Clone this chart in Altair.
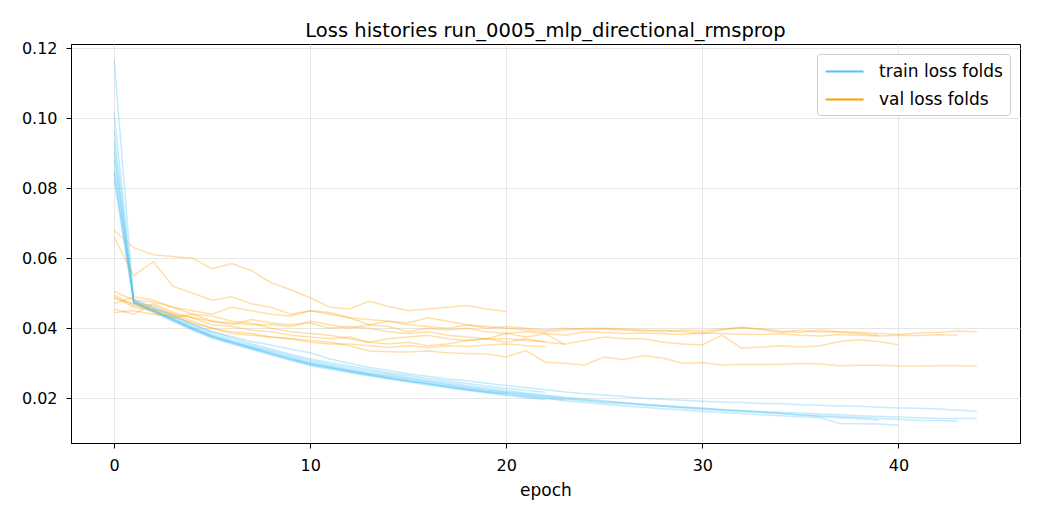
import altair as alt
import pandas as pd

# ---- train loss per fold (index = epoch) ----
train_f1 = [0.0882, 0.0480, 0.0458, 0.0435, 0.0410, 0.0390, 0.0376, 0.0362, 0.0352, 0.0340, 0.0330,
            0.0312, 0.0300, 0.0288, 0.0279, 0.0270, 0.0263, 0.0255, 0.0250, 0.0243, 0.0236, 0.0230,
            0.0224, 0.0218, 0.0213, 0.0209, 0.0205, 0.0200, 0.0197, 0.0194, 0.0191, 0.0189, 0.0188,
            0.0185, 0.0184, 0.0181, 0.0180, 0.0178, 0.0177, 0.0174, 0.0172, 0.0171, 0.0169, 0.0166, 0.0162]
train_f2 = [0.0844, 0.0475, 0.0450, 0.0425, 0.0400, 0.0378, 0.0362, 0.0348, 0.0333, 0.0318, 0.0303,
            0.0293, 0.0282, 0.0272, 0.0265, 0.0256, 0.0248, 0.0240, 0.0232, 0.0225, 0.0218, 0.0212,
            0.0206, 0.0200, 0.0195, 0.0190, 0.0186, 0.0182, 0.0178, 0.0174, 0.0171, 0.0168, 0.0165,
            0.0162, 0.0160, 0.0158, 0.0155, 0.0153, 0.0150, 0.0148, 0.0146, 0.0144, 0.0142, 0.0142, 0.0142]
train_f3 = [0.1165, 0.0478, 0.0452, 0.0428, 0.0402, 0.0380, 0.0363, 0.0346, 0.0330, 0.0315, 0.0300,
            0.0290, 0.0280, 0.0270, 0.0262, 0.0254, 0.0246, 0.0238, 0.0230, 0.0223, 0.0216, 0.0210,
            0.0204, 0.0198, 0.0193, 0.0188, 0.0184, 0.0180, 0.0176, 0.0172, 0.0168, 0.0165, 0.0162,
            0.0159, 0.0156, 0.0153, 0.0150, 0.0148, 0.0145, 0.0142, 0.0140, 0.0137, 0.0136, 0.0135]
train_f4 = [0.0930, 0.0472, 0.0448, 0.0422, 0.0396, 0.0374, 0.0358, 0.0342, 0.0326, 0.0310, 0.0296,
            0.0286, 0.0276, 0.0266, 0.0257, 0.0249, 0.0241, 0.0233, 0.0225, 0.0218, 0.0211, 0.0205,
            0.0199, 0.0193, 0.0188, 0.0183, 0.0178, 0.0174, 0.0170, 0.0166, 0.0162, 0.0159, 0.0156,
            0.0153, 0.0150, 0.0147, 0.0144, 0.0128, 0.0127, 0.0126, 0.0123]
train_f5 = [0.1016, 0.0476, 0.0454, 0.0430, 0.0406, 0.0384, 0.0368, 0.0352, 0.0337, 0.0322, 0.0308,
            0.0297, 0.0287, 0.0277, 0.0269, 0.0260, 0.0252, 0.0244, 0.0236, 0.0229, 0.0222, 0.0215,
            0.0209, 0.0203, 0.0198, 0.0193, 0.0188, 0.0183, 0.0179, 0.0175, 0.0171, 0.0167, 0.0164,
            0.0160, 0.0156, 0.0152, 0.0148, 0.0144, 0.0141, 0.0138]
train_f6 = [0.0963, 0.0474, 0.0450, 0.0426, 0.0400, 0.0377, 0.0360, 0.0344, 0.0328, 0.0313, 0.0298,
            0.0288, 0.0278, 0.0268, 0.0259, 0.0250, 0.0242, 0.0234, 0.0226, 0.0219, 0.0214, 0.0206,
            0.0201, 0.0195]
train_f7 = [0.0824, 0.0470, 0.0445, 0.0420, 0.0394, 0.0372, 0.0355, 0.0339, 0.0323, 0.0308, 0.0293,
            0.0283, 0.0273, 0.0264, 0.0255, 0.0246, 0.0238, 0.0230, 0.0222, 0.0215, 0.0208, 0.0202,
            0.0196]
train_f8 = [0.0850, 0.0482, 0.0460, 0.0436, 0.0412, 0.0390, 0.0373, 0.0356, 0.0341, 0.0326, 0.0312,
            0.0302, 0.0292, 0.0282, 0.0273, 0.0265, 0.0257, 0.0249, 0.0242, 0.0235, 0.0228, 0.0222,
            0.0217]
train_f9 = [0.0905, 0.0473, 0.0449, 0.0424, 0.0398, 0.0375, 0.0359, 0.0343, 0.0327, 0.0312, 0.0297,
            0.0287, 0.0277, 0.0267, 0.0258, 0.0249, 0.0241, 0.0233, 0.0225, 0.0218, 0.0212]

# ---- validation loss per fold (index = epoch) ----
val_f1 = [0.0485, 0.0470, 0.0465, 0.0440, 0.0420, 0.0400, 0.0390, 0.0385, 0.0375, 0.0370, 0.0365,
          0.0360, 0.0350, 0.0335, 0.0333, 0.0332, 0.0335, 0.0330, 0.0328, 0.0326, 0.0318, 0.0336,
          0.0303, 0.0300, 0.0295, 0.0318, 0.0310, 0.0322, 0.0314, 0.0300, 0.0302, 0.0295, 0.0297,
          0.0296, 0.0297, 0.0299, 0.0298, 0.0293, 0.0294, 0.0294, 0.0292, 0.0292, 0.0293, 0.0293, 0.0292]
val_f2 = [0.0505, 0.0480, 0.0475, 0.0460, 0.0450, 0.0440, 0.0460, 0.0450, 0.0440, 0.0435, 0.0450,
          0.0440, 0.0430, 0.0425, 0.0420, 0.0415, 0.0430, 0.0420, 0.0410, 0.0405, 0.0400, 0.0395,
          0.0390, 0.0395, 0.0400, 0.0400, 0.0398, 0.0395, 0.0390, 0.0395, 0.0392, 0.0398, 0.0402,
          0.0398, 0.0392, 0.0388, 0.0395, 0.0390, 0.0388, 0.0385, 0.0382, 0.0386, 0.0388, 0.0392, 0.0390]
val_f3 = [0.0490, 0.0460, 0.0450, 0.0430, 0.0440, 0.0420, 0.0415, 0.0410, 0.0410, 0.0405, 0.0420,
          0.0410, 0.0400, 0.0410, 0.0405, 0.0390, 0.0400, 0.0395, 0.0400, 0.0390, 0.0385, 0.0390,
          0.0385, 0.0380, 0.0390, 0.0388, 0.0385, 0.0386, 0.0384, 0.0382, 0.0386, 0.0385, 0.0383,
          0.0382, 0.0384, 0.0380, 0.0378, 0.0382, 0.0380, 0.0378, 0.0380, 0.0379, 0.0381, 0.0380]
val_f4 = [0.0470, 0.0490, 0.0480, 0.0460, 0.0440, 0.0435, 0.0420, 0.0415, 0.0400, 0.0390, 0.0385,
          0.0380, 0.0370, 0.0360, 0.0370, 0.0375, 0.0380, 0.0370, 0.0365, 0.0370, 0.0360, 0.0370,
          0.0360, 0.0355, 0.0365, 0.0375, 0.0370, 0.0370, 0.0360, 0.0355, 0.0352, 0.0380, 0.0343,
          0.0346, 0.0350, 0.0346, 0.0350, 0.0362, 0.0367, 0.0362, 0.0353]
val_f5 = [0.0660, 0.0550, 0.0590, 0.0520, 0.0500, 0.0480, 0.0490, 0.0470, 0.0460, 0.0440, 0.0450,
          0.0445, 0.0430, 0.0410, 0.0420, 0.0410, 0.0405, 0.0400, 0.0410, 0.0400, 0.0405, 0.0400,
          0.0395, 0.0400, 0.0396, 0.0398, 0.0395, 0.0392, 0.0395, 0.0390, 0.0385, 0.0395, 0.0402,
          0.0396, 0.0388, 0.0394, 0.0389, 0.0389, 0.0385, 0.0379]
val_f6 = [0.0495, 0.0465, 0.0455, 0.0440, 0.0430, 0.0420, 0.0410, 0.0425, 0.0415, 0.0410, 0.0415,
          0.0400, 0.0405, 0.0400, 0.0390, 0.0385, 0.0390, 0.0380, 0.0375, 0.0370, 0.0385, 0.0375,
          0.0384, 0.0353]
val_f7 = [0.0455, 0.0440, 0.0470, 0.0445, 0.0430, 0.0410, 0.0405, 0.0395, 0.0390, 0.0380, 0.0375,
          0.0370, 0.0375, 0.0360, 0.0355, 0.0360, 0.0350, 0.0355, 0.0365, 0.0370, 0.0370, 0.0365,
          0.0362]
val_f8 = [0.0445, 0.0450, 0.0440, 0.0435, 0.0415, 0.0400, 0.0385, 0.0380, 0.0375, 0.0370, 0.0360,
          0.0355, 0.0355, 0.0350, 0.0345, 0.0350, 0.0345, 0.0350, 0.0348, 0.0352, 0.0355, 0.0350,
          0.0347]
val_f9 = [0.0680, 0.0630, 0.0610, 0.0605, 0.0600, 0.0570, 0.0585, 0.0565, 0.0530, 0.0510, 0.0487,
          0.0460, 0.0455, 0.0477, 0.0462, 0.0450, 0.0455, 0.0460, 0.0465, 0.0455, 0.0448]

train_series = [train_f1, train_f2, train_f3, train_f4, train_f5, train_f6, train_f7, train_f8, train_f9]
val_series = [val_f1, val_f2, val_f3, val_f4, val_f5, val_f6, val_f7, val_f8, val_f9]

kind_labels = ["train loss folds", "val loss folds"]
kind_colors = ["#4fc3f7", "#ffa000"]
x_ticks = [0, 10, 20, 30, 40]
y_ticks = [0.02, 0.04, 0.06, 0.08, 0.10, 0.12]

rows = []
for k, series_list in zip(kind_labels, [train_series, val_series]):
    for i, s in enumerate(series_list):
        for ep, v in enumerate(s):
            rows.append({"epoch": ep, "loss": v, "fold": f"{k}_{i}", "kind": k})
df = pd.DataFrame(rows)

FONT = "DejaVu Sans"

x_enc = alt.X("epoch:Q",
              scale=alt.Scale(domain=[-2.2, 46.2], nice=False, zero=False),
              axis=alt.Axis(values=x_ticks, title="epoch", format="d"))
y_enc = alt.Y("loss:Q",
              scale=alt.Scale(domain=[0.0072, 0.1212], nice=False, zero=False),
              axis=alt.Axis(values=y_ticks, title="", format=".2f"))
color_enc = alt.Color("kind:N",
                      scale=alt.Scale(domain=kind_labels, range=kind_colors),
                      legend=alt.Legend(title=None, orient="top-right", offset=10,
                                        symbolType="M-2,0L2,0", symbolOpacity=1,
                                        symbolStrokeWidth=2, symbolSize=361,
                                        symbolOffset=10,
                                        labelFontSize=17, labelFont=FONT,
                                        labelColor="black", rowPadding=9,
                                        padding=7, strokeColor="#cccccc",
                                        fillColor="white", cornerRadius=3,
                                        labelOffset=24))

base = alt.Chart(df).mark_line(strokeWidth=1.5, opacity=0.33).encode(
    x=x_enc, y=y_enc, color=color_enc, detail="fold:N", order="epoch:Q"
)
train_layer = base.transform_filter(alt.datum.kind == kind_labels[0])
val_layer = base.transform_filter(alt.datum.kind == kind_labels[1])

chart = alt.layer(train_layer, val_layer).properties(
    width=949, height=399,
    title=alt.TitleParams("Loss histories run_0005_mlp_directional_rmsprop",
                          fontSize=19.5, fontWeight="normal", font=FONT,
                          color="black", anchor="middle", offset=-1),
    autosize=alt.AutoSizeParams(type="none"),
    padding={"left": 63, "top": 36, "right": 12, "bottom": 60},
).configure_view(
    stroke="black", strokeWidth=1
).configure_axis(
    labelFont=FONT, labelFontSize=16, labelColor="black",
    titleFont=FONT, titleFontSize=17, titleFontWeight="normal", titleColor="black",
    tickColor="black", tickSize=5, domainColor="black", domainWidth=1,
    gridColor="#e6e6e6", gridWidth=1, labelPadding=9
).configure_axisX(titlePadding=9)

chart.save("out.html", embed_options={"renderer": "svg", "actions": False})
